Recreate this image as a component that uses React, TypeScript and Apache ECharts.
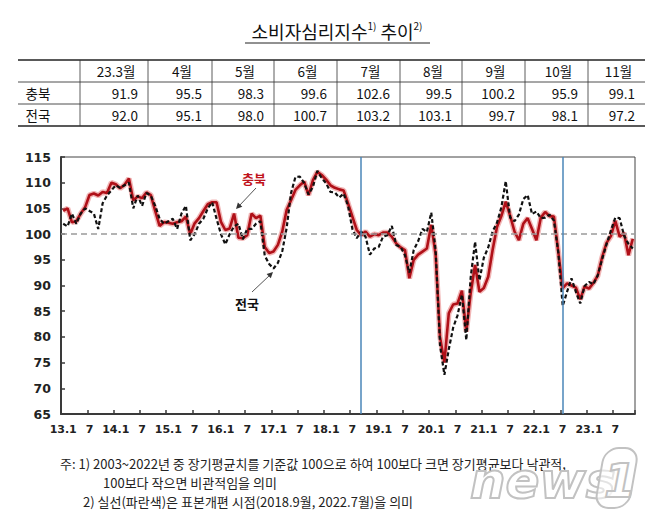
import React, { useEffect, useRef } from "react";
import * as echarts from "echarts";

// ---- Data ----
// 충북 consumer sentiment index, monthly 2013.1 – 2023.11
const chungbuk2013 = [104.5, 105, 102.3, 102.5, 104, 105.2, 107.6, 107.9, 107.5, 108.2, 108, 110];
const chungbuk2014 = [109.7, 108.9, 109.6, 110.8, 106.6, 107.3, 107, 108.1, 107.6, 104.5, 101.6, 102.3];
const chungbuk2015 = [102.2, 102, 102.3, 102.5, 103.4, 100, 102.1, 103.1, 104.5, 105.8, 106.2, 106.2];
const chungbuk2016 = [102.4, 100.8, 101.1, 104, 99.3, 99.2, 99.8, 104, 103.1, 103.6, 97.5, 96.3];
const chungbuk2017 = [96.6, 97.9, 100.5, 104.7, 106.6, 108.6, 109.5, 110.2, 107.6, 110.5, 112.1, 111.5];
const chungbuk2018 = [110.6, 109.5, 109, 108.7, 108.5, 106, 103.4, 100.8, 99.8, 100.5, 99.5, 100];
const chungbuk2019 = [99.8, 100.3, 100.3, 99.5, 98.2, 97.4, 96.9, 91.4, 95, 96, 96.6, 97.2];
const chungbuk2020 = [101.8, 96, 80, 75, 84.6, 86.3, 86.5, 89, 81, 88.5, 94, 88.8];
const chungbuk2021 = [89.5, 91.7, 96.9, 101.4, 103.5, 106.3, 103.6, 100.5, 98.8, 102, 103.1, 101];
const chungbuk2022 = [98.8, 103.2, 104.3, 103.5, 103.4, 96.5, 89.5, 90.4, 90, 89.6, 87.3, 89.8];
const chungbuk2023 = [89.4, 90.5, 91.9, 95.5, 98.3, 99.6, 102.6, 99.5, 100.2, 95.9, 99.1];

// 전국 consumer sentiment index, monthly 2013.1 – 2023.11
const national2013 = [102, 101.5, 104, 102, 104, 105, 104.5, 104, 101, 106, 107.5, 108.5];
const national2014 = [109.5, 109, 109.5, 110, 105, 107.5, 105.5, 108, 107.5, 105.5, 103, 102];
const national2015 = [102.5, 103, 101, 104, 105.5, 98.8, 100, 102, 103, 105, 106.2, 103];
const national2016 = [100, 98, 100, 101.5, 102, 99, 101, 101, 102, 102.5, 95.8, 94.2];
const national2017 = [93.3, 94.4, 96.7, 101.2, 108, 111.1, 111.2, 109.9, 107.7, 109.2, 112.3, 110.9];
const national2018 = [109.9, 108.2, 108.1, 107.1, 107.9, 105.5, 101, 99.2, 100.5, 99.5, 96, 97.2];
const national2019 = [97.5, 99.5, 99.8, 101.6, 97.9, 97.5, 95.9, 92.5, 96.9, 98.6, 101, 100.4];
const national2020 = [104.2, 96.9, 78.4, 72.6, 77.6, 81.8, 84.2, 88.2, 79.4, 91.6, 98.5, 91];
const national2021 = [95.4, 97.4, 100.5, 102.2, 105.2, 110.3, 103.2, 102.5, 103.8, 106.8, 107.6, 103.9];
const national2022 = [104.4, 103.1, 103.2, 103.8, 102.6, 96.4, 86, 88.8, 91.4, 88.8, 86.5, 89.9];
const national2023 = [90.7, 90.2, 92, 95.1, 98, 100.7, 103.2, 103.1, 99.7, 98.1, 97.2];

const chungbuk = [
  ...chungbuk2013, ...chungbuk2014, ...chungbuk2015, ...chungbuk2016, ...chungbuk2017, ...chungbuk2018,
  ...chungbuk2019, ...chungbuk2020, ...chungbuk2021, ...chungbuk2022, ...chungbuk2023,
];
const national = [
  ...national2013, ...national2014, ...national2015, ...national2016, ...national2017, ...national2018,
  ...national2019, ...national2020, ...national2021, ...national2022, ...national2023,
];

// category labels "13.1" ... "23.11"
const monthCategories: string[] = [];
for (let yy = 13; yy <= 23; yy++) {
  for (let m = 1; m <= 12; m++) {
    if (yy === 23 && m > 11) break;
    monthCategories.push(`${yy}.${m}`);
  }
}

const yTicks = { min: 65, max: 115, interval: 5 };
const baseline = 100;
const sampleRevisions = ["18.9", "22.7"];

const tableMonths = ["23.3월", "4월", "5월", "6월", "7월", "8월", "9월", "10월", "11월"];
const tableRowNames = ["충북", "전국"];
const tableChungbuk = chungbuk.slice(-9);
const tableNational = national.slice(-9);

const titleMain = "소비자심리지수";
const titleSub = "추이";
const footnotes = [
  "주: 1) 2003~2022년 중 장기평균치를 기준값 100으로 하여 100보다 크면 장기평균보다 낙관적,",
  "100보다 작으면 비관적임을 의미",
  "2) 실선(파란색)은 표본개편 시점(2018.9월, 2022.7월)을 의미",
];

const KR = "'Noto Sans CJK KR', 'Noto Sans', sans-serif";
const AX = "'DejaVu Sans', Verdana, sans-serif";

const watermarkSvg =
  "<svg xmlns='http://www.w3.org/2000/svg' width='178' height='72' viewBox='0 0 178 72'>" +
  "<g fill='rgba(255,255,255,0.55)' stroke='#c2c2c2' stroke-width='2'>" +
  "<text x='4' y='56' font-family='DejaVu Sans' font-weight='bold' font-style='italic' font-size='50'>news</text>" +
  "<rect x='140' y='6' width='34' height='60' rx='14' transform='skewX(-10)'/>" +
  "<text x='138' y='55' font-family='DejaVu Sans' font-weight='bold' font-style='italic' font-size='46'>1</text>" +
  "</g></svg>";
const watermarkUrl = "data:image/svg+xml;charset=utf-8," + encodeURIComponent(watermarkSvg);

export default function App() {
  const ref = useRef<HTMLDivElement>(null);

  useEffect(() => {
    document.body.style.margin = "0";
    if (!ref.current) return;
    const chart = echarts.init(ref.current, undefined, { renderer: "svg" });

    const graphics: any[] = [];

    // Title
    graphics.push({
      type: "text",
      x: 337,
      y: 31,
      style: {
        text: `{m|${titleMain}}{s|1)}{m| ${titleSub}}{s|2)}`,
        align: "center",
        verticalAlign: "middle",
        rich: {
          m: { fontSize: 18, fontFamily: KR, fill: "#111", lineHeight: 22 },
          s: { fontSize: 10, fontFamily: KR, fill: "#111", verticalAlign: "top", lineHeight: 13 },
        },
      },
    });
    graphics.push({
      type: "line",
      shape: { x1: 245, y1: 43, x2: 430, y2: 43 },
      style: { stroke: "#222", lineWidth: 1 },
    });

    // Table
    const colEdges = [80, 148, 212, 274, 337, 400, 462, 525, 588, 645];
    const tLeft = 18;
    const rowLines = [60, 82, 104, 126];
    rowLines.forEach((y, i) => {
      graphics.push({
        type: "line",
        shape: { x1: tLeft, y1: y, x2: colEdges[colEdges.length - 1], y2: y },
        style: { stroke: "#222", lineWidth: i === 0 || i === 3 ? 1.4 : 0.8 },
      });
    });
    colEdges.slice(0, -1).forEach((x) => {
      graphics.push({
        type: "line",
        shape: { x1: x, y1: rowLines[0], x2: x, y2: rowLines[3] },
        style: { stroke: "#333", lineWidth: 0.8 },
      });
    });
    const rowCenters = [71, 93, 115];
    tableMonths.forEach((t, c) => {
      graphics.push({
        type: "text",
        x: (colEdges[c] + colEdges[c + 1]) / 2 + 2,
        y: rowCenters[0],
        style: { text: t, fontSize: 13.5, fontFamily: KR, fill: "#111", align: "center", verticalAlign: "middle" },
      });
    });
    [tableChungbuk, tableNational].forEach((vals, r) => {
      graphics.push({
        type: "text",
        x: 38,
        y: rowCenters[r + 1],
        style: { text: tableRowNames[r], fontSize: 13.5, fontFamily: KR, fill: "#111", align: "center", verticalAlign: "middle" },
      });
      vals.forEach((v, c) => {
        graphics.push({
          type: "text",
          x: colEdges[c + 1] - 10,
          y: rowCenters[r + 1],
          style: { text: v.toFixed(1), fontSize: 13.5, fontFamily: KR, fill: "#111", align: "right", verticalAlign: "middle" },
        });
      });
    });

    // Series annotations
    graphics.push({
      type: "text",
      x: 254,
      y: 178,
      style: { text: "충북", fontSize: 13, fontWeight: "bold", fontFamily: KR, fill: "#c0141c", align: "center", verticalAlign: "middle" },
    });
    graphics.push({
      type: "line",
      shape: { x1: 256, y1: 188, x2: 239, y2: 206 },
      style: { stroke: "#555", lineWidth: 1 },
    });
    graphics.push({
      type: "polygon",
      shape: { points: [[236, 209], [242.3, 206.8], [237.9, 202.6]] },
      style: { fill: "#333" },
    });
    graphics.push({
      type: "text",
      x: 247,
      y: 303,
      style: { text: "전국", fontSize: 13, fontWeight: "bold", fontFamily: KR, fill: "#111", align: "center", verticalAlign: "middle" },
    });
    graphics.push({
      type: "line",
      shape: { x1: 252, y1: 292, x2: 270, y2: 275 },
      style: { stroke: "#555", lineWidth: 1 },
    });
    graphics.push({
      type: "polygon",
      shape: { points: [[273, 272], [270.8, 278.3], [266.6, 273.9]] },
      style: { fill: "#333" },
    });

    // Footnotes
    const fnStyle = { fontSize: 13, lineHeight: 15, fontFamily: KR, fill: "#222", verticalAlign: "middle" };
    graphics.push({ type: "text", x: 60, y: 463, style: { ...fnStyle, text: footnotes[0] } });
    graphics.push({ type: "text", x: 103, y: 482, style: { ...fnStyle, text: footnotes[1] } });
    graphics.push({ type: "text", x: 83, y: 501, style: { ...fnStyle, text: footnotes[2] } });

    // Watermark (news1 logo)
    graphics.push({
      type: "image",
      x: 466,
      y: 442,
      z: 100,
      style: { image: watermarkUrl, width: 178, height: 72 },
    });

    chart.setOption({
      animation: false,
      backgroundColor: "#fff",
      grid: { left: 61, right: 20, top: 157, bottom: 103, show: true, borderColor: "#444", borderWidth: 1 },
      xAxis: {
        type: "category",
        data: monthCategories,
        boundaryGap: true,
        axisLine: { lineStyle: { color: "#3a3a3a", width: 2 } },
        axisTick: {
          show: true,
          inside: true,
          length: 4,
          interval: (i: number) => i % 6 === 0,
          lineStyle: { color: "#3a3a3a", width: 1.5 },
        },
        axisLabel: {
          interval: (i: number) => i % 6 === 0,
          formatter: (v: string) => (v.endsWith(".1") ? v : v.split(".")[1]),
          fontFamily: AX,
          fontWeight: "bold",
          fontSize: 11,
          color: "#222",
          margin: 10,
        },
        splitLine: { show: false },
      },
      yAxis: {
        type: "value",
        min: yTicks.min,
        max: yTicks.max,
        interval: yTicks.interval,
        axisLine: { show: true, lineStyle: { color: "#3a3a3a", width: 2 } },
        axisTick: { show: true, inside: true, length: 4, lineStyle: { color: "#3a3a3a", width: 1.5 } },
        axisLabel: { fontFamily: AX, fontWeight: "bold", fontSize: 12.5, color: "#222", margin: 10 },
        splitLine: { show: false },
      },
      series: [
        {
          name: "guides",
          type: "line",
          data: [],
          z: 1,
          markLine: {
            silent: true,
            symbol: "none",
            label: { show: false },
            data: [
              { yAxis: baseline, lineStyle: { color: "#9a9a9a", type: [6, 4], width: 1.5 } },
              ...sampleRevisions.map((m) => ({ xAxis: m, lineStyle: { color: "#4a86b8", type: "solid", width: 1.5 } })),
            ],
          },
        },
        {
          name: "충북glow",
          type: "line",
          data: chungbuk,
          symbol: "none",
          z: 2,
          silent: true,
          lineStyle: { color: "rgba(225,90,90,0.45)", width: 5.5 },
        },
        {
          name: "충북",
          type: "line",
          data: chungbuk,
          symbol: "none",
          z: 3,
          lineStyle: { color: "#b01018", width: 2.6 },
        },
        {
          name: "전국",
          type: "line",
          data: national,
          symbol: "none",
          z: 4,
          lineStyle: { color: "#111", width: 2.2, type: [4, 2.5] },
        },
      ],
      graphic: graphics,
    });

    return () => chart.dispose();
  }, []);

  return <div ref={ref} style={{ width: 655, height: 517 }} />;
}
